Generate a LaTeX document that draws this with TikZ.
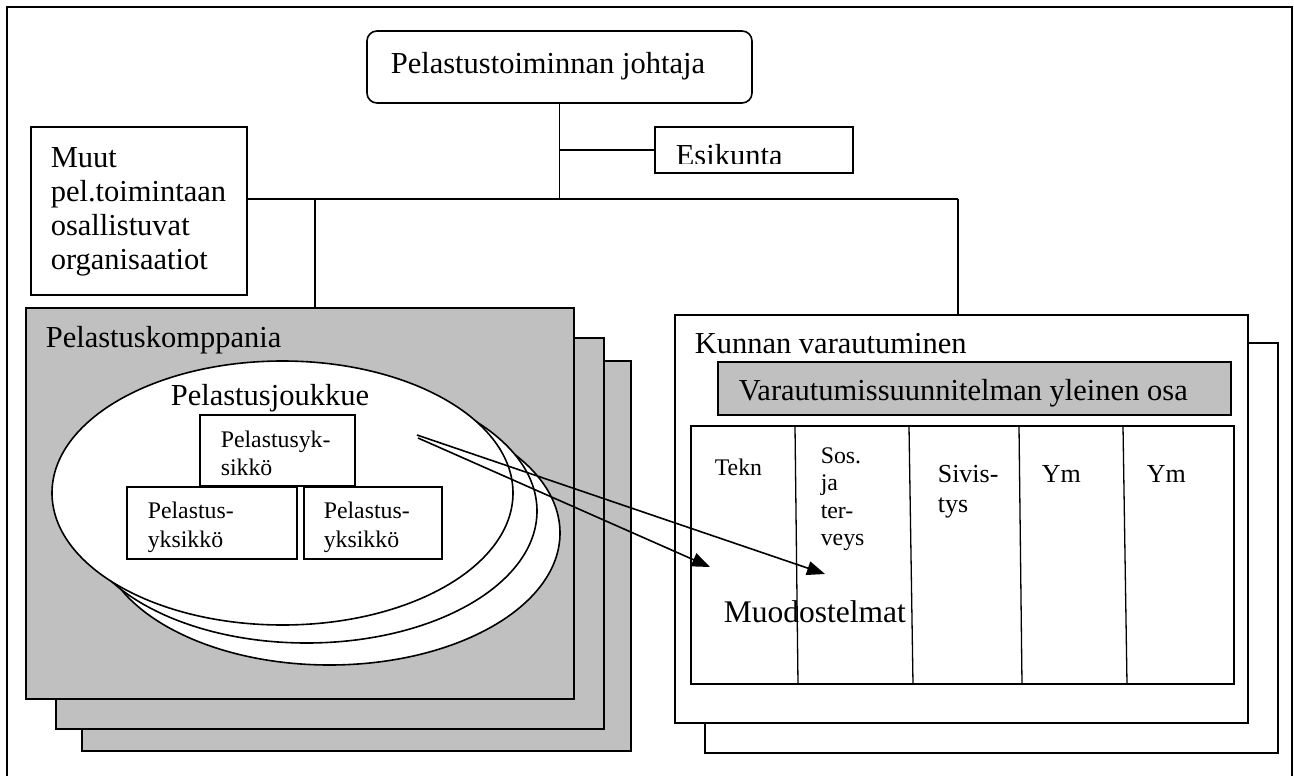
\documentclass[tikz,border=0pt]{standalone}
\usepackage{fontspec}
\setmainfont{Liberation Serif}
\usetikzlibrary{shapes.geometric,arrows.meta}
\definecolor{silverfill}{RGB}{192,192,192}
\begin{document}
\begin{tikzpicture}[x=1pt,y=-1pt,
  line width=1.6pt,
  box/.style={draw, rectangle, inner sep=0pt, outer sep=0pt},
  graybox/.style={box, fill=silverfill},
  whitebox/.style={box, fill=white},
  oval/.style={draw, ellipse, fill=white, inner sep=0pt, outer sep=0pt,
    minimum width=461pt, minimum height=264pt},
  bigtxt/.style={inner sep=0pt, anchor=base west, font=\fontsize{30.5}{34}\selectfont},
  midtxt/.style={inner sep=0pt, anchor=base west, font=\fontsize{26}{30}\selectfont},
  smalltxt/.style={inner sep=0pt, anchor=base west, font=\fontsize{23.8}{28}\selectfont},
  conn/.style={line width=1.6pt},
  pointer/.style={line width=1.6pt, -{Triangle[length=18pt,width=14pt]}},
  divider/.style={line width=1.3pt}
]
\useasboundingbox (0,0) rectangle (1294,776);

% outer frame (open at the bottom edge)
\draw (7,776) -- (7,7) -- (1292,7) -- (1292,776);

% ---- top of the tree ----
\node[box, rounded corners=10pt, minimum width=385pt, minimum height=72pt] (top) at (559.5,67) {};
\node[bigtxt] (toptxt) at (390,74) {Pelastustoiminnan johtaja};

\node[box, minimum width=198pt, minimum height=46pt] (esik) at (754,150) {};
\begin{scope}
  \clip (656,128) rectangle (852,163.5);
  \node[bigtxt] (esiktxt) at (675,165) {Esikunta};
\end{scope}

\node[box, minimum width=216pt, minimum height=168pt] (muut) at (139,211) {};
\node[bigtxt] (m1) at (50,167) {Muut};
\node[bigtxt] (m2) at (50,201) {pel.toimintaan};
\node[bigtxt] (m3) at (50,235) {osallistuvat};
\node[bigtxt] (m4) at (50,269) {organisaatiot};

% ---- Pelastuskomppania stack ----
\node[graybox, minimum width=549pt, minimum height=390pt] (pk3) at (356.5,556) {};
\node[graybox, minimum width=548pt, minimum height=391pt] (pk2) at (330,533.5) {};
\node[graybox, minimum width=548pt, minimum height=391pt] (pk1) at (300,503.5) {};
\node[bigtxt] (pktxt) at (45,347) {Pelastuskomppania};

\node[oval] (e3) at (329.5,533) {};
\node[oval] (e2) at (306.5,511) {};
\node[oval] (e1) at (282.5,493) {};
\node[bigtxt] (pjtxt) at (170,405) {Pelastusjoukkue};

\node[whitebox, minimum width=155pt, minimum height=71pt] (u1) at (277.5,450.5) {};
\node[smalltxt] (u1a) at (220,447) {Pelastusyk-};
\node[smalltxt] (u1b) at (220,475) {sikkö};
\node[whitebox, minimum width=170pt, minimum height=72pt] (u2) at (212,523) {};
\node[smalltxt] (u2a) at (147,518) {Pelastus-};
\node[smalltxt] (u2b) at (147,547) {yksikkö};
\node[whitebox, minimum width=138pt, minimum height=72pt] (u3) at (373,523) {};
\node[smalltxt] (u3a) at (323,518) {Pelastus-};
\node[smalltxt] (u3b) at (323,547) {yksikkö};

% ---- Kunnan varautuminen stack ----
\node[whitebox, minimum width=573pt, minimum height=410pt] (kv2) at (991.5,548) {};
\node[whitebox, minimum width=573pt, minimum height=408pt] (kv1) at (961.5,519) {};
\node[bigtxt] (kvtxt) at (694,353) {Kunnan varautuminen};

\node[graybox, line width=1.3pt, minimum width=513pt, minimum height=53pt] (yo) at (974.5,388.5) {};
\node[bigtxt] (yotxt) at (738,400) {Varautumissuunnitelman yleinen osa};

\node[box, minimum width=543pt, minimum height=258pt] (tbl) at (962.5,555) {};
\draw[divider] (795,426) -- (798,684);
\draw[divider] (909,426) -- (913,684);
\draw[divider] (1019,426) -- (1022,684);
\draw[divider] (1123,426) -- (1127,684);

\node[smalltxt] (c1) at (714,475) {Tekn};
\node[smalltxt] (c2a) at (820,463) {Sos.};
\node[smalltxt] (c2b) at (820,490) {ja};
\node[smalltxt] (c2c) at (820,518) {ter-};
\node[smalltxt] (c2d) at (820,545) {veys};
\node[midtxt] (c3a) at (937,482) {Sivis-};
\node[midtxt] (c3b) at (937,512) {tys};
\node[midtxt] (c4) at (1041,482) {Ym};
\node[midtxt] (c5) at (1146,482) {Ym};
\node[inner sep=0pt, anchor=base west, font=\fontsize{31.5}{35}\selectfont] (muod) at (723,622) {Muodostelmat};

% ---- tree connectors ----
\coordinate (busy) at (0,199);
\coordinate (pj) at (315,199);
\coordinate (kj) at (958,199);
\draw[conn] (top.south) -- (top.south |- busy);
\draw[conn] (top.south |- esik.west) -- (esik.west);
\draw[conn] (muut.east |- busy) -- (kj);
\draw[conn] (pj) -- (pj |- pk1.north);
\draw[conn] (kj) -- (kj |- kv1.north);

% ---- pointers from the platoon to the formations ----
\coordinate (s1) at (417,435);
\coordinate (s2) at (418,438);
\coordinate (t1) at (825,574);
\coordinate (t2) at (710,567);
\draw[pointer] (s1) -- (t1);
\draw[pointer] (s2) -- (t2);
\end{tikzpicture}
\end{document}
